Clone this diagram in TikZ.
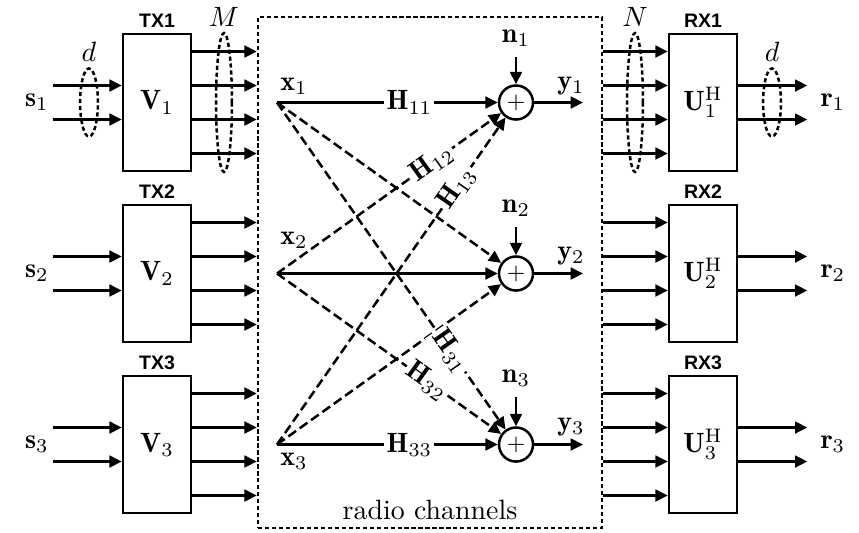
\documentclass[tikz,border=0pt]{standalone}
\usepackage{fontspec}
\newfontfamily\boxfont{Liberation Sans}
\usetikzlibrary{arrows.meta, positioning, shapes.geometric, calc}
\tikzset{
  every picture/.style={line width=0.9pt},
  arr/.style={-{Triangle[length=4.4pt, width=4.2pt]}},
  dline/.style={dash pattern=on 3.4pt off 1.6pt},
  dotline/.style={dash pattern=on 1.5pt off 1pt},
  blk/.style={draw, fill=white, minimum width=24.4pt, minimum height=49.1pt, inner sep=0pt},
  bname/.style={font=\boxfont\bfseries\fontsize{7}{8}\selectfont, inner sep=0pt},
  adder/.style={draw, circle, fill=white, minimum size=12.2pt, inner sep=0pt, font=\footnotesize},
  bundle/.style={draw, dotline, ellipse, inner sep=0pt},
  hlab/.style={fill=white, inner sep=0.8pt},
  chbox/.style={draw, dotline, minimum width=123.3pt, minimum height=183.1pt, inner sep=0pt},
}

\begin{document}
\begin{tikzpicture}[x=0.3584pt, y=-0.3584pt]
  \useasboundingbox (0,0) rectangle (859,532);
  % radio channels
  \node[chbox] (chan) at (430,272.5) {};
  \node[above=-0.5pt of chan.south] (chname) {radio channels};

  % transmitters and receivers
  \node[blk] (tx1) at (157,102.5) {$\mathbf{V}_1$};
  \node[blk] (tx2) at (157,273.5) {$\mathbf{V}_2$};
  \node[blk] (tx3) at (157,444.5) {$\mathbf{V}_3$};
  \node[bname, above=1.4pt of tx1] (tx1n) {TX1};
  \node[bname, above=1.4pt of tx2] (tx2n) {TX2};
  \node[bname, above=1.4pt of tx3] (tx3n) {TX3};
  \node[blk] (rx1) at (703,102.5) {$\mathbf{U}_1^{\mathrm{H}}$};
  \node[blk] (rx2) at (703,273.5) {$\mathbf{U}_2^{\mathrm{H}}$};
  \node[blk] (rx3) at (703,444.5) {$\mathbf{U}_3^{\mathrm{H}}$};
  \node[bname, above=1.4pt of rx1] (rx1n) {RX1};
  \node[bname, above=1.4pt of rx2] (rx2n) {RX2};
  \node[bname, above=1.4pt of rx3] (rx3n) {RX3};

  \node (s1) at (37,102.5) {$\mathbf{s}_1$};
  \node (s2) at (37,273.5) {$\mathbf{s}_2$};
  \node (s3) at (37,444.5) {$\mathbf{s}_3$};
  \node (r1) at (833,102.5) {$\mathbf{r}_1$};
  \node (r2) at (833,273.5) {$\mathbf{r}_2$};
  \node (r3) at (833,444.5) {$\mathbf{r}_3$};

  \foreach \i in {1,2,3} {
    \foreach \dy in {-17,17} {
      \draw[arr] ($(tx\i.west)+(-69,\dy)$) -- ($(tx\i.west)+(0,\dy)$);
      \draw[arr] ($(rx\i.east)+(0,\dy)$) -- ($(rx\i.east)+(69,\dy)$);
    }
    \foreach \dy in {-51,-17,17,51} {
      \draw[arr] ($(tx\i.east)+(0,\dy)$) -- ($(chan.west |- tx\i.east)+(0,\dy)$);
      \draw[arr] ($(chan.east |- rx\i.west)+(0,\dy)$) -- ($(rx\i.west)+(0,\dy)$);
    }
  }

  % antenna bundles
  \node[bundle, minimum width=6.4pt, minimum height=24.4pt] (din) at (89,102.5) {};
  \node[bundle, minimum width=5.7pt, minimum height=49.8pt] (mant) at (224,102.5) {};
  \node[bundle, minimum width=5.7pt, minimum height=49.8pt] (nant) at (635,102.5) {};
  \node[bundle, minimum width=6.4pt, minimum height=24.4pt] (dout) at (772,102.5) {};
  \node[above=0.6pt of din, inner sep=1pt] (dinl) {$d$};
  \node[above=0.6pt of mant, inner sep=1pt] (mantl) {$M$};
  \node[above=0.6pt of nant, inner sep=1pt] (nantl) {$N$};
  \node[above=0.6pt of dout, inner sep=1pt] (doutl) {$d$};

  % channel
  \coordinate (x1) at (277,102.5);
  \coordinate (x2) at (277,273.5);
  \coordinate (x3) at (277,444.5);
  \node (x1l) at (294,86) {$\mathbf{x}_1$};
  \node (x2l) at (294,240) {$\mathbf{x}_2$};
  \node (x3l) at (294,461) {$\mathbf{x}_3$};
  \node[adder] (a1) at (516,102.5) {$+$};
  \node[adder] (a2) at (516,273.5) {$+$};
  \node[adder] (a3) at (516,444.5) {$+$};
  \node (n1) at (516,38) {$\mathbf{n}_1$};
  \node (n2) at (516,208) {$\mathbf{n}_2$};
  \node (n3) at (516,378) {$\mathbf{n}_3$};
  \draw[arr] (n1) -- (a1); \draw[arr] (n2) -- (a2); \draw[arr] (n3) -- (a3);
  \coordinate (y1e) at (583,102.5);
  \coordinate (y2e) at (583,273.5);
  \coordinate (y3e) at (583,444.5);
  \draw[arr] (a1) -- (y1e); \draw[arr] (a2) -- (y2e); \draw[arr] (a3) -- (y3e);
  \node (y1l) at (571,86) {$\mathbf{y}_1$};
  \node (y2l) at (571,256) {$\mathbf{y}_2$};
  \node (y3l) at (571,427) {$\mathbf{y}_3$};

  \draw[arr] (x1) -- node[hlab, pos=0.6] (h11) {$\mathbf{H}_{11}$} (a1);
  \draw[arr] (x2) -- (a2);
  \draw[arr] (x3) -- node[hlab, pos=0.6] (h33) {$\mathbf{H}_{33}$} (a3);
  \draw[arr, dline] (x2) -- node[hlab, sloped, pos=0.69] (h12) {$\mathbf{H}_{12}$} (a1);
  \draw[arr, dline] (x3) -- node[hlab, sloped, pos=0.785] (h13) {$\mathbf{H}_{13}$} (a1);
  \draw[arr, dline] (x1) -- (a2);
  \draw[arr, dline] (x3) -- (a2);
  \draw[arr, dline] (x1) -- node[hlab, sloped, pos=0.76] (h31) {$\mathbf{H}_{31}$} (a3);
  \draw[arr, dline] (x2) -- node[hlab, sloped, pos=0.67] (h32) {$\mathbf{H}_{32}$} (a3);
\end{tikzpicture}
\end{document}
